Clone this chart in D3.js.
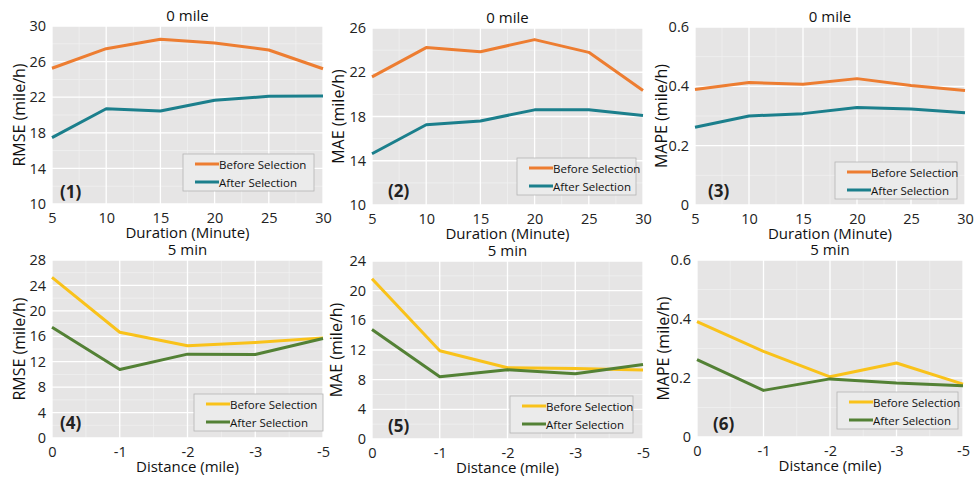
<!DOCTYPE html>
<meta charset="utf-8">
<style>
  body { margin: 0; background: #fff; }
  svg { display: block; font-family: "Open Sans", sans-serif; }
  .tick text { fill: #222; }
</style>
<body>
<div id="chart"></div>
<script src="https://d3js.org/d3.v7.min.js"></script>
<script>
// ---- data ----
const durations = [5, 10, 15, 20, 25, 30];
const distances = ["0", "-1", "-2", "-3", "-5"];
const seriesNames = ["Before Selection", "After Selection"];

// top row: 0 mile, by duration
const rmseBeforeDur = [25.25, 27.45, 28.5, 28.1, 27.3, 25.2];
const rmseAfterDur  = [17.45, 20.7, 20.45, 21.65, 22.1, 22.13];
const maeBeforeDur  = [21.58, 24.23, 23.86, 24.95, 23.8, 20.35];
const maeAfterDur   = [14.63, 17.25, 17.6, 18.6, 18.6, 18.1];
const mapeBeforeDur = [0.389, 0.413, 0.407, 0.426, 0.403, 0.386];
const mapeAfterDur  = [0.262, 0.300, 0.308, 0.329, 0.324, 0.311];

// bottom row: 5 min, by distance
const rmseBeforeDist = [25.28, 16.64, 14.5, 15.02, 15.75];
const rmseAfterDist  = [17.43, 10.78, 13.19, 13.14, 15.65];
const maeBeforeDist  = [21.62, 11.89, 9.6, 9.51, 9.29];
const maeAfterDist   = [14.76, 8.39, 9.33, 8.79, 10.05];
const mapeBeforeDist = [0.391, 0.290, 0.204, 0.251, 0.179];
const mapeAfterDist  = [0.262, 0.158, 0.197, 0.183, 0.174];

// tick labels
const rmseTicksDur  = [10, 14, 18, 22, 26, 30];
const maeTicksDur   = [10, 14, 18, 22, 26];
const mapeTicks     = [0, 0.2, 0.4, 0.6];
const rmseTicksDist = [0, 4, 8, 12, 16, 20, 24, 28];
const maeTicksDist  = [0, 4, 8, 12, 16, 20, 24];

// ---- layout ----
const W = 975, H = 479;
const topColors = ["#ED7D31", "#1B7F8C"];
const botColors = ["#F9C21A", "#538135"];

const panels = [
  { label: "(1)", title: "0 mile", ytitle: "RMSE (mile/h)", xtitle: "Duration (Minute)",
    xs: durations, ys: [rmseBeforeDur, rmseAfterDur], yticks: rmseTicksDur, colors: topColors,
    x0: 52, x1: 323, y0: 26, y1: 204, ytx: 19, leg: [183, 154, 131], lab: [60, 198] },
  { label: "(2)", title: "0 mile", ytitle: "MAE (mile/h)", xtitle: "Duration (Minute)",
    xs: durations, ys: [maeBeforeDur, maeAfterDur], yticks: maeTicksDur, colors: topColors,
    x0: 372, x1: 643, y0: 28, y1: 205, ytx: 338, leg: [517, 158, 119], lab: [388, 197] },
  { label: "(3)", title: "0 mile", ytitle: "MAPE (mile/h)", xtitle: "Duration (Minute)",
    xs: durations, ys: [mapeBeforeDur, mapeAfterDur], yticks: mapeTicks, colors: topColors,
    x0: 695, x1: 965, y0: 27, y1: 205, ytx: 661, leg: [835, 162, 122], lab: [708, 197] },
  { label: "(4)", title: "5 min", ytitle: "RMSE (mile/h)", xtitle: "Distance (mile)",
    xs: distances, ys: [rmseBeforeDist, rmseAfterDist], yticks: rmseTicksDist, colors: botColors,
    x0: 52, x1: 323, y0: 260, y1: 438, ytx: 19, leg: [194, 394, 129], lab: [60, 429] },
  { label: "(5)", title: "5 min", ytitle: "MAE (mile/h)", xtitle: "Distance (mile)",
    xs: distances, ys: [maeBeforeDist, maeAfterDist], yticks: maeTicksDist, colors: botColors,
    x0: 372, x1: 643, y0: 261, y1: 439, ytx: 336, leg: [510, 396, 123], lab: [388, 432] },
  { label: "(6)", title: "5 min", ytitle: "MAPE (mile/h)", xtitle: "Distance (mile)",
    xs: distances, ys: [mapeBeforeDist, mapeAfterDist], yticks: mapeTicks, colors: botColors,
    x0: 697, x1: 963, y0: 260, y1: 437, ytx: 663, leg: [837, 392, 121], lab: [713, 430] }
];

const svg = d3.select("#chart").append("svg")
  .attr("width", W).attr("height", H);

panels.forEach(p => {
  const g = svg.append("g");
  const numeric = typeof p.xs[0] === "number";
  const x = numeric
    ? d3.scaleLinear().domain(d3.extent(p.xs)).range([p.x0, p.x1])
    : d3.scalePoint().domain(p.xs).range([p.x0, p.x1]);
  const yt = p.yticks;
  const y = d3.scaleLinear().domain([yt[0], yt[yt.length - 1]]).range([p.y1, p.y0]);

  // plot background
  g.append("rect")
    .attr("x", p.x0).attr("y", p.y0)
    .attr("width", p.x1 - p.x0).attr("height", p.y1 - p.y0)
    .attr("fill", "#e6e5e5");

  // minor grid (half steps)
  const xpos = p.xs.map(d => x(d));
  const xminor = d3.pairs(xpos).map(([a, b]) => (a + b) / 2);
  const yminor = d3.pairs(yt).map(([a, b]) => y((a + b) / 2));
  g.append("g").selectAll("line").data(xminor).join("line")
    .attr("x1", d => d).attr("x2", d => d).attr("y1", p.y0).attr("y2", p.y1)
    .attr("stroke", "#f0f0f0").attr("stroke-width", 0.8);
  g.append("g").selectAll("line").data(yminor).join("line")
    .attr("x1", p.x0).attr("x2", p.x1).attr("y1", d => d).attr("y2", d => d)
    .attr("stroke", "#f0f0f0").attr("stroke-width", 0.8);

  // major grid
  g.append("g").selectAll("line").data(xpos).join("line")
    .attr("x1", d => d).attr("x2", d => d).attr("y1", p.y0).attr("y2", p.y1)
    .attr("stroke", "#fff").attr("stroke-width", 1.3);
  g.append("g").selectAll("line").data(yt).join("line")
    .attr("x1", p.x0).attr("x2", p.x1).attr("y1", d => y(d)).attr("y2", d => y(d))
    .attr("stroke", "#fff").attr("stroke-width", 1.3);

  // axes (labels only)
  const xAxis = numeric
    ? d3.axisBottom(x).tickValues(p.xs).tickFormat(d3.format("d"))
    : d3.axisBottom(x);
  g.append("g")
    .attr("transform", `translate(0,${p.y1})`)
    .call(xAxis.tickSize(0).tickPadding(9))
    .call(a => a.select(".domain").remove())
    .selectAll("text").attr("font-size", 14.5).attr("font-family", "Open Sans");
  g.append("g")
    .attr("transform", `translate(${p.x0},0)`)
    .call(d3.axisLeft(y).tickValues(yt).tickFormat(d => d3.format("~g")(d)).tickSize(0).tickPadding(6))
    .call(a => a.select(".domain").remove())
    .selectAll("text").attr("font-size", 14.5).attr("font-family", "Open Sans");

  // titles
  const cx = (p.x0 + p.x1) / 2;
  g.append("text").attr("x", cx).attr("y", p.y0 - 5)
    .attr("text-anchor", "middle").attr("font-size", 15).attr("fill", "#111")
    .text(p.title);
  g.append("text").attr("x", cx).attr("y", p.y1 + 34)
    .attr("text-anchor", "middle").attr("font-size", 15).attr("fill", "#111")
    .text(p.xtitle);
  g.append("text")
    .attr("transform", `translate(${p.ytx},${(p.y0 + p.y1) / 2}) rotate(-90)`)
    .attr("text-anchor", "middle").attr("dominant-baseline", "central")
    .attr("font-size", 16).attr("fill", "#111")
    .text(p.ytitle);

  // lines
  const line = d3.line().x((d, i) => x(p.xs[i])).y(d => y(d));
  p.ys.forEach((vals, i) => {
    g.append("path").datum(vals)
      .attr("d", line)
      .attr("fill", "none")
      .attr("stroke", p.colors[i])
      .attr("stroke-width", 3)
      .attr("stroke-linejoin", "round");
  });

  // panel label
  g.append("text").attr("x", p.lab[0]).attr("y", p.lab[1])
    .attr("font-size", 17).attr("font-weight", "bold").attr("fill", "#222")
    .text(p.label);

  // legend
  const [lx, ly, lw] = p.leg;
  const lg = g.append("g").attr("transform", `translate(${lx},${ly})`);
  lg.append("rect").attr("width", lw).attr("height", 37)
    .attr("fill", "#ebebeb").attr("stroke", "#b5b5b5").attr("stroke-width", 0.8);
  seriesNames.forEach((name, i) => {
    const ry = 10 + i * 18;
    lg.append("line").attr("x1", 12).attr("x2", 36).attr("y1", ry).attr("y2", ry)
      .attr("stroke", p.colors[i]).attr("stroke-width", 3);
    lg.append("text").attr("x", 36).attr("y", ry)
      .attr("dominant-baseline", "central")
      .attr("font-size", 11.5).attr("fill", "#111")
      .text(name);
  });
});
</script>
</body>
